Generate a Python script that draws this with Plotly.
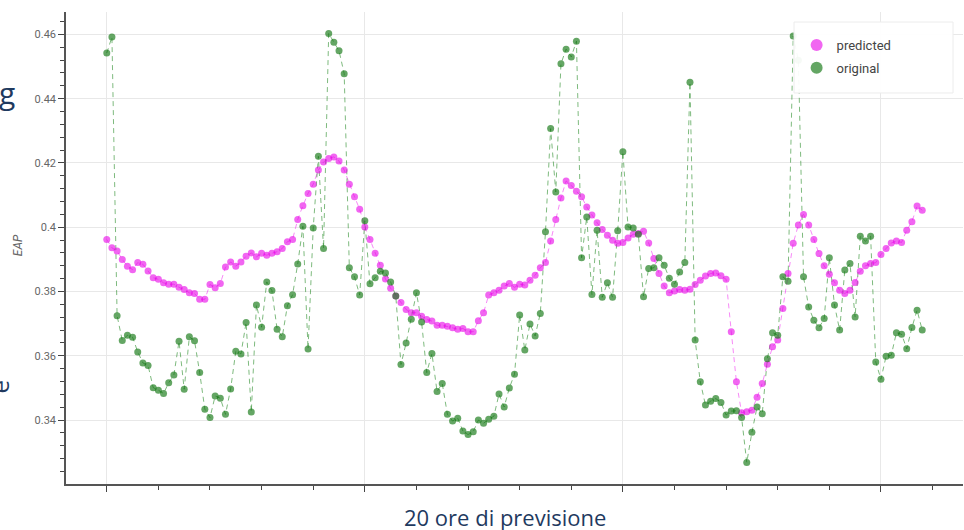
import plotly.graph_objects as go

# ---- data ----
predicted = [
    0.3962, 0.3936, 0.3926, 0.3900, 0.3879, 0.3868, 0.3890, 0.3885, 0.3864, 0.3843,
    0.3838, 0.3827, 0.3823, 0.3823, 0.3813, 0.3806, 0.3796, 0.3794, 0.3776, 0.3776,
    0.3822, 0.3812, 0.3825, 0.3876, 0.3892, 0.3879, 0.3892, 0.3910, 0.3920, 0.3908,
    0.3919, 0.3913, 0.3919, 0.3924, 0.3934, 0.3955, 0.3962, 0.4024, 0.4067, 0.4105,
    0.4134, 0.4178, 0.4203, 0.4214, 0.4219, 0.4206, 0.4178, 0.4134, 0.4095, 0.4056,
    0.4001, 0.3962, 0.3919, 0.3882, 0.3839, 0.3810, 0.3786, 0.3766, 0.3744, 0.3734,
    0.3734, 0.3723, 0.3713, 0.3708, 0.3695, 0.3695, 0.3692, 0.3687, 0.3683, 0.3685,
    0.3675, 0.3675, 0.3709, 0.3734, 0.3789, 0.3796, 0.3804, 0.3817, 0.3825, 0.3813,
    0.3823, 0.3820, 0.3835, 0.3851, 0.3874, 0.3890, 0.3957, 0.4024, 0.4091, 0.4144,
    0.4130, 0.4112, 0.4095, 0.4063, 0.4038, 0.4014, 0.3993, 0.3975, 0.3960, 0.3950,
    0.3953, 0.3967, 0.3978, 0.3981, 0.3988, 0.3951, 0.3903, 0.3856, 0.3817, 0.3796,
    0.3802, 0.3806, 0.3804, 0.3807, 0.3822, 0.3835, 0.3848, 0.3856, 0.3858, 0.3849,
    0.3838, 0.3675, 0.3519, 0.3423, 0.3426, 0.3431, 0.3471, 0.3514, 0.3574, 0.3628,
    0.3649, 0.3747, 0.3856, 0.3950, 0.4007, 0.4040, 0.4007, 0.3962, 0.3918, 0.3880,
    0.3854, 0.3827, 0.3804, 0.3794, 0.3804, 0.3828, 0.3863, 0.3880, 0.3887, 0.3890,
    0.3915, 0.3934, 0.3951, 0.3957, 0.3953, 0.3991, 0.4017, 0.4066, 0.4053,
]
original = [
    0.4542, 0.4592, 0.3725, 0.3648, 0.3664, 0.3658, 0.3612, 0.3578, 0.3570, 0.3501,
    0.3493, 0.3483, 0.3516, 0.3540, 0.3645, 0.3496, 0.3659, 0.3647, 0.3548, 0.3434,
    0.3408, 0.3475, 0.3468, 0.3418, 0.3497, 0.3614, 0.3606, 0.3704, 0.3425, 0.3758,
    0.3689, 0.3830, 0.3803, 0.3683, 0.3659, 0.3756, 0.3790, 0.3886, 0.4003, 0.3621,
    0.3998, 0.4221, 0.3934, 0.4603, 0.4576, 0.4549, 0.4478, 0.3874, 0.3846, 0.3789,
    0.4020, 0.3824, 0.3843, 0.3863, 0.3858, 0.3830, 0.3786, 0.3573, 0.3640, 0.3714,
    0.3796, 0.3705, 0.3548, 0.3607, 0.3489, 0.3514, 0.3418, 0.3397, 0.3406, 0.3366,
    0.3355, 0.3364, 0.3400, 0.3390, 0.3403, 0.3412, 0.3481, 0.3441, 0.3500, 0.3543,
    0.3727, 0.3618, 0.3699, 0.3662, 0.3732, 0.3986, 0.4307, 0.4110, 0.4509, 0.4554,
    0.4530, 0.4579, 0.3905, 0.4032, 0.3791, 0.3991, 0.3782, 0.3827, 0.3782, 0.3989,
    0.4235, 0.4001, 0.3998, 0.3978, 0.3784, 0.3872, 0.3874, 0.3905, 0.3882, 0.3841,
    0.3823, 0.3861, 0.3890, 0.4451, 0.3649, 0.3519, 0.3447, 0.3459, 0.3467, 0.3455,
    0.3416, 0.3428, 0.3429, 0.3408, 0.3268, 0.3362, 0.3441, 0.3420, 0.3591, 0.3672,
    0.3664, 0.3846, 0.3832, 0.4595, 0.4520, 0.3846, 0.3752, 0.3711, 0.3687, 0.3716,
    0.3905, 0.3758, 0.3680, 0.3867, 0.3887, 0.3721, 0.3972, 0.3957, 0.3972, 0.3581,
    0.3527, 0.3599, 0.3602, 0.3672, 0.3667, 0.3622, 0.3688, 0.3742, 0.3680,
]
steps = list(range(len(predicted)))
y_ticks = [0.34, 0.36, 0.38, 0.40, 0.42, 0.44, 0.46]
y_tick_labels = ["0.34", "0.36", "0.38", "0.4", "0.42", "0.44", "0.46"]
x_ticks = [0, 50, 100, 150]
series_names = ["predicted", "original"]
x_title = "20 ore di previsione"
y_title = "EAP"

PINK = "rgba(232,0,232,0.6)"
PINK_LINE = "rgba(240,40,240,0.55)"
GREEN = "rgba(20,120,20,0.66)"
GREEN_LINE = "rgba(20,130,20,0.55)"

fig = go.Figure()
fig.add_trace(go.Scatter(x=steps, y=predicted, mode="lines",
                         line=dict(color=PINK_LINE, width=1, dash="5px,4px"),
                         showlegend=False, hoverinfo="skip"))
fig.add_trace(go.Scatter(x=steps, y=original, mode="lines",
                         line=dict(color=GREEN_LINE, width=1, dash="5px,4px"),
                         showlegend=False, hoverinfo="skip"))
fig.add_trace(go.Scatter(x=steps, y=predicted, mode="markers", name=series_names[0],
                         marker=dict(color=PINK, size=7, line=dict(width=0)),
                         legendgroup="a"))
fig.add_trace(go.Scatter(x=steps, y=original, mode="markers", name=series_names[1],
                         marker=dict(color=GREEN, size=7, line=dict(width=0)),
                         legendgroup="b"))

n = len(steps)
pad_x = (n - 1) * 0.05
ymin, ymax = min(min(predicted), min(original)), max(max(predicted), max(original))
pad_y = (ymax - ymin) * 0.05

fig.update_layout(
    width=964, height=530,
    margin=dict(l=66, r=1, t=12, b=46, autoexpand=False),
    paper_bgcolor="white", plot_bgcolor="white",
    font=dict(family="Roboto, Arial, sans-serif", color="#666"),
    showlegend=True,
    legend=dict(
        x=0.8145, y=0.962, xanchor="left", yanchor="top",
        bgcolor="rgba(0,0,0,0)", borderwidth=0,
        font=dict(size=13, color="#444", family="Roboto, Arial, sans-serif"),
        itemsizing="constant", traceorder="grouped", tracegroupgap=3,
    ),
    shapes=[
        # legend box (semi-opaque white panel covering the data, like the original)
        dict(type="rect", xref="paper", yref="paper", layer="above",
             x0=0.8116, x1=0.9889, y0=0.8284, y1=0.9788,
             fillcolor="rgba(255,255,255,0.94)", line=dict(color="#ececec", width=1)),
    ],
    xaxis=dict(
        range=[-pad_x, (n - 1) + pad_x], automargin=False,
        tickvals=x_ticks, showticklabels=False,
        ticks="outside", ticklen=6, tickwidth=1, tickcolor="#444",
        showline=True, linecolor="#555", linewidth=1.5,
        showgrid=True, gridcolor="#e8e8e8", gridwidth=1,
        zeroline=False,
        minor=dict(dtick=10, tick0=0, ticks="outside", ticklen=4, tickcolor="#444", showgrid=False),
    ),
    yaxis=dict(
        range=[ymin - pad_y, ymax + pad_y], automargin=False,
        tickvals=y_ticks, ticktext=y_tick_labels,
        ticks="outside", ticklen=6, tickwidth=1, tickcolor="#444",
        tickfont=dict(size=11, color="#666"),
        showline=True, linecolor="#555", linewidth=1.5,
        showgrid=True, gridcolor="#e8e8e8", gridwidth=1,
        zeroline=False,
        minor=dict(dtick=0.004, tick0=0.34, ticks="outside", ticklen=4, tickcolor="#444", showgrid=False),
    ),
    annotations=[
        dict(text="<i>" + y_title + "</i>", xref="paper", yref="paper", x=-0.0535, y=0.506,
             textangle=-90, showarrow=False, xanchor="center", yanchor="middle",
             font=dict(size=12, color="#666", family="Roboto, Arial, sans-serif")),
        dict(text=x_title, xref="paper", yref="paper", x=0.489, y=-0.07,
             showarrow=False, xanchor="center", yanchor="middle",
             font=dict(size=22, color="#1f3a5f", family="Open Sans, Lato, sans-serif")),
        # clipped slide letters at the far left edge
        dict(text="g", xref="paper", yref="paper", x=-0.0769, y=0.829,
             showarrow=False, xanchor="left", yanchor="middle",
             font=dict(size=30, color="#1f3a5f", family="Open Sans, sans-serif")),
        dict(text="e", xref="paper", yref="paper", x=-0.095, y=0.205,
             textangle=-90, showarrow=False, xanchor="left", yanchor="middle",
             font=dict(size=24, color="#1f3a5f", family="Open Sans, sans-serif")),
    ],
)

fig.write_html("out.html", config={"displayModeBar": False},
               post_script="document.body.style.margin='0';document.body.style.overflow='hidden';")
